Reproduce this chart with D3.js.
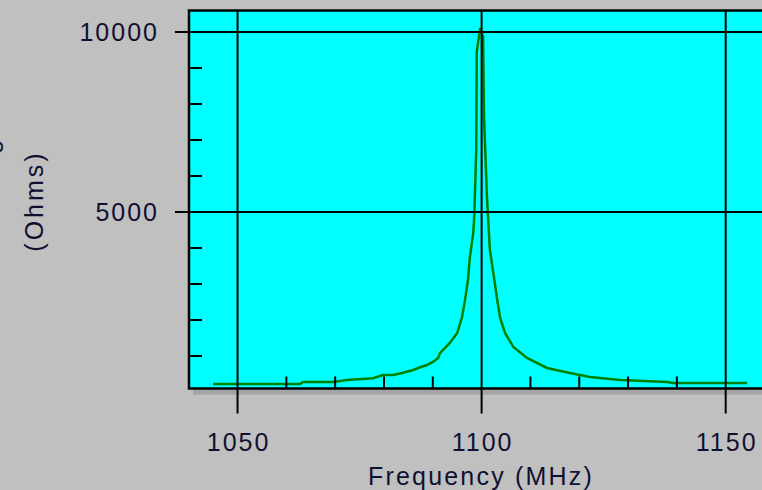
<!DOCTYPE html>
<html>
<head>
<meta charset="utf-8">
<script src="https://cdn.jsdelivr.net/npm/d3@7"></script>
<style>
  html, body { margin: 0; padding: 0; background: #c0c0c0; }
  svg { display: block; }
  text { font-family: "Liberation Sans", Arial, sans-serif; }
</style>
</head>
<body>
<svg id="chart" width="762" height="490"></svg>
<script>
// ---- data ----
const freqs = [1045.1, 1062.9, 1063.5, 1069.7, 1072.5, 1077.9, 1079.9, 1082.0, 1084.0, 1086.1,
  1087.5, 1088.9, 1090.2, 1091.2, 1091.6, 1093.6, 1095.1, 1096.1, 1096.7, 1097.3,
  1097.7, 1098.4, 1098.6, 1099.0, 1099.1, 1099.8, 1100.4, 1100.6, 1101.2, 1101.8,
  1102.5, 1103.3, 1103.9, 1104.9, 1106.6, 1109.4, 1113.5, 1118.2, 1122.3, 1128.5,
  1138.1, 1139.3, 1154.5];
const ohms = [208, 208, 264, 264, 319, 367, 458, 458, 522, 597,
  672, 736, 828, 931, 1069, 1347, 1625, 2069, 2542, 3097,
  3736, 4403, 4903, 6708, 9431, 10100, 9847, 7597, 5403, 3931,
  3292, 2542, 2042, 1625, 1236, 931, 653, 514, 403, 319,
  264, 236, 236];
const xMajor = [1050, 1100, 1150];
const xMinor = [1060, 1070, 1080, 1090, 1110, 1120, 1130, 1140];
const yMajor = [5000, 10000];
const yMinor = [1000, 2000, 3000, 4000, 6000, 7000, 8000, 9000];
const xTitle = "Frequency (MHz)";
const yTitle = "(Ohms)";
const yTitleCut = "Magnitude";

// ---- layout ----
const svg = d3.select("#chart");
const L = 189, T = 10.5, R = 774, B = 388.5;

const x = d3.scaleLinear().domain([1040.16, 1160]).range([L, R]);
const y = d3.scaleLinear().domain([83, 10583]).range([B, T]);

// drop shadow
svg.append("rect").attr("x", L + 4).attr("y", T + 4)
  .attr("width", R - L).attr("height", B - T + 2).attr("fill", "#a4a4a4");
// plot area
svg.append("rect").attr("x", L).attr("y", T)
  .attr("width", R - L).attr("height", B - T).attr("fill", "#00ffff");

svg.append("clipPath").attr("id", "pc").append("rect")
  .attr("x", L).attr("y", T).attr("width", R - L).attr("height", B - T);

// curve
const pts = freqs.map((f, i) => [f, ohms[i]]);
svg.append("path").datum(pts)
  .attr("clip-path", "url(#pc)")
  .attr("fill", "none").attr("stroke", "#008000").attr("stroke-width", 2.5)
  .attr("stroke-linejoin", "miter")
  .attr("d", d3.line().x(d => x(d[0])).y(d => y(d[1])));

// gridlines
svg.append("g").attr("transform", `translate(0,${B})`)
  .call(d3.axisBottom(x).tickValues(xMajor).tickSize(-(B - T)).tickFormat(""))
  .call(g => g.select(".domain").remove())
  .call(g => g.selectAll("line").attr("stroke", "#000").attr("stroke-width", 2));
svg.append("g").attr("transform", `translate(${L},0)`)
  .call(d3.axisLeft(y).tickValues(yMajor).tickSize(-(R - L)).tickFormat(""))
  .call(g => g.select(".domain").remove())
  .call(g => g.selectAll("line").attr("stroke", "#000").attr("stroke-width", 2));

// minor ticks (inside)
svg.append("g").attr("transform", `translate(0,${B})`)
  .call(d3.axisBottom(x).tickValues(xMinor).tickSize(-12).tickFormat(""))
  .call(g => g.select(".domain").remove())
  .call(g => g.selectAll("line").attr("stroke", "#000").attr("stroke-width", 2));
svg.append("g").attr("transform", `translate(${L},0)`)
  .call(d3.axisLeft(y).tickValues(yMinor).tickSize(-13).tickFormat(""))
  .call(g => g.select(".domain").remove())
  .call(g => g.selectAll("line").attr("stroke", "#000").attr("stroke-width", 2));

// major ticks outside + labels
svg.append("g").attr("transform", `translate(0,${B})`)
  .call(d3.axisBottom(x).tickValues(xMajor).tickSize(25).tickFormat(d3.format("d")))
  .call(g => g.select(".domain").remove())
  .call(g => g.selectAll("line").attr("stroke", "#000").attr("stroke-width", 2))
  .call(g => g.selectAll("text").attr("y", 62).attr("dy", 0).attr("dx", 1)
    .attr("fill", "#101030").attr("font-size", 25).attr("letter-spacing", 2)
    .attr("font-family", "Liberation Sans, Arial, sans-serif"));
svg.append("g").attr("transform", `translate(${L},0)`)
  .call(d3.axisLeft(y).tickValues(yMajor).tickSize(14).tickPadding(16).tickFormat(d3.format("d")))
  .call(g => g.select(".domain").remove())
  .call(g => g.selectAll("line").attr("stroke", "#000").attr("stroke-width", 2))
  .call(g => g.selectAll("text").attr("dy", "0.36em")
    .attr("fill", "#101030").attr("font-size", 25).attr("letter-spacing", 2)
    .attr("font-family", "Liberation Sans, Arial, sans-serif"));

// plot border (top, left, bottom)
svg.append("path")
  .attr("d", `M${R},${T}H${L}V${B}H${R}`)
  .attr("fill", "none").attr("stroke", "#000").attr("stroke-width", 2.5);

// titles
svg.append("text").attr("x", 481).attr("y", 485)
  .attr("text-anchor", "middle").attr("font-size", 25).attr("letter-spacing", 2.2)
  .attr("fill", "#101030").text(xTitle);
svg.append("text").attr("transform", "translate(43,201) rotate(-90)")
  .attr("text-anchor", "middle").attr("font-size", 25).attr("letter-spacing", 3)
  .attr("fill", "#101030").text(yTitle);
// first line of the y title, cut off by the left edge as in the reference
svg.append("text").attr("transform", "translate(-2,125) rotate(-90)")
  .attr("text-anchor", "middle").attr("font-size", 25).attr("letter-spacing", 2)
  .attr("fill", "#101030").text(yTitleCut);
</script>
</body>
</html>
